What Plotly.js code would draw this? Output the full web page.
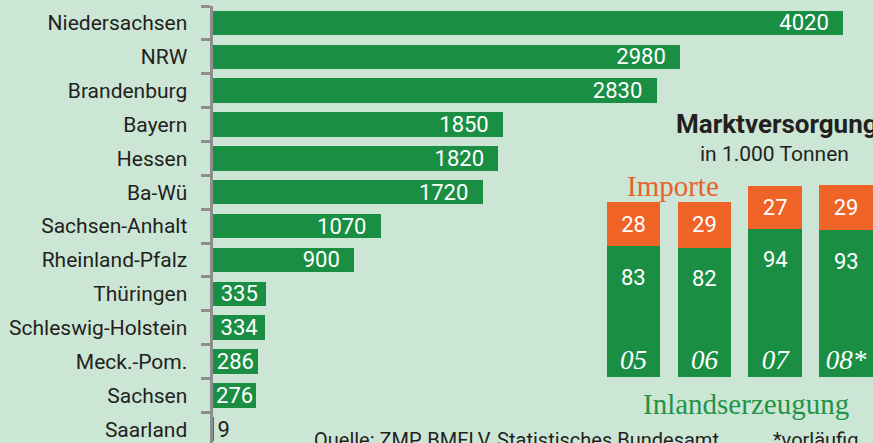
<!DOCTYPE html>
<html>
<head>
<meta charset="utf-8">
<script src="https://cdn.plot.ly/plotly-3.0.1.min.js"></script>
<style>html,body{margin:0;padding:0;background:#cce6d5;}#chart{width:873px;height:443px;}</style>
</head>
<body>
<div id="chart"></div>
<script>
// Main chart data
const states = ["Niedersachsen","NRW","Brandenburg","Bayern","Hessen","Ba-Wü","Sachsen-Anhalt","Rheinland-Pfalz","Thüringen","Schleswig-Holstein","Meck.-Pom.","Sachsen","Saarland"];
const area = [4020,2980,2830,1850,1820,1720,1070,900,335,334,286,276,9];

// Inset data (Marktversorgung, in 1.000 Tonnen)
const years = ["05","06","07","08*"];
const inland = [83,82,94,93];
const imports = [28,29,27,29];

const W = 873, H = 443;
const SANS = "Roboto, 'Liberation Sans', Arial, sans-serif";
const SERIF = "'Liberation Serif', 'Times New Roman', serif";
const GREEN = '#1a8f44', ORANGE = '#ef6326', DARK = '#231f20', BG = '#cce6d5', GRAY = '#8e8e8e';
const px = v => v / W, py = v => 1 - v / H;

// Long bars: label at the bar end; short bars: label centred; tiny bars: label outside
const isLong = v => v >= 500;
const longTrace = {
  type: 'bar', orientation: 'h', xaxis: 'x', yaxis: 'y',
  x: area.map(v => isLong(v) ? v : null), y: states,
  width: 0.72, marker: {color: GREEN},
  text: area.map(v => isLong(v) ? v + '\u2002' : ''),
  textposition: 'inside', insidetextanchor: 'end', constraintext: 'none', cliponaxis: false,
  insidetextfont: {family: SANS, size: 22, color: '#ffffff'},
  hoverinfo: 'skip'
};
const shortTrace = {
  type: 'bar', orientation: 'h', xaxis: 'x', yaxis: 'y',
  x: area.map(v => isLong(v) ? null : v), y: states,
  width: 0.72, marker: {color: GREEN},
  text: area.map(v => isLong(v) ? '' : String(v)),
  textposition: area.map(v => v >= 100 ? 'inside' : 'outside'),
  insidetextanchor: 'middle', constraintext: 'none', cliponaxis: false,
  insidetextfont: {family: SANS, size: 22, color: '#ffffff'},
  outsidetextfont: {family: SANS, size: 22, color: DARK},
  hoverinfo: 'skip'
};

const inlandTrace = {
  type: 'bar', x: years, y: inland, xaxis: 'x2', yaxis: 'y2',
  width: 0.755, marker: {color: GREEN}, hoverinfo: 'skip'
};
const importTrace = {
  type: 'bar', x: years, y: imports, xaxis: 'x2', yaxis: 'y2',
  width: 0.755, marker: {color: ORANGE},
  text: imports.map(String), textposition: 'inside', insidetextanchor: 'middle',
  constraintext: 'none',
  insidetextfont: {family: SANS, size: 22, color: '#ffffff'},
  hoverinfo: 'skip'
};

const xStart = 212.5, zeroPx = 213, endPx = 843;
const unitPx = (endPx - zeroPx) / area[0];
const xmax = (W - zeroPx) / unitPx;
const xmin = -(zeroPx - xStart) / unitPx;

const rowPx = 33.86, topPx = 6;
const yBottom = -0.5 + (H - topPx) / rowPx;

const step = 70.8, c0 = 633.6;
const x2Start = c0 - step / 2;
const x2End = -0.5 + (W - x2Start) / step;
const base2 = 377.3, unit2 = 1.579, y2max = 125;
const y2top = base2 - y2max * unit2;

const annotations = [];
inland.forEach((v, i) => {
  annotations.push({xref: 'x2', yref: 'y2', x: i, y: v, yshift: -31, showarrow: false,
    text: String(v), font: {family: SANS, size: 22, color: '#ffffff'}, xanchor: 'center', yanchor: 'middle'});
});
annotations.push(
  {xref: 'paper', yref: 'paper', x: px(674), y: py(124), xanchor: 'left', yanchor: 'middle', showarrow: false,
   text: '<b>Marktversorgung</b>', font: {family: SANS, size: 26, color: DARK}},
  {xref: 'paper', yref: 'paper', x: px(774), y: py(154), xanchor: 'center', yanchor: 'middle', showarrow: false,
   text: 'in 1.000 Tonnen', font: {family: SANS, size: 21, color: DARK}},
  {xref: 'paper', yref: 'paper', x: px(673), y: py(186), xanchor: 'center', yanchor: 'middle', showarrow: false,
   text: 'Importe', font: {family: SERIF, size: 29, color: '#e8612c'}},
  {xref: 'paper', yref: 'paper', x: px(746), y: py(404), xanchor: 'center', yanchor: 'middle', showarrow: false,
   text: 'Inlandserzeugung', font: {family: SERIF, size: 29, color: '#1f9447'}},
  {xref: 'paper', yref: 'paper', x: px(312), y: py(440), xanchor: 'left', yanchor: 'middle', showarrow: false,
   text: 'Quelle: ZMP, BMELV, Statistisches Bundesamt', font: {family: SANS, size: 20, color: DARK}},
  {xref: 'paper', yref: 'paper', x: px(771), y: py(440), xanchor: 'left', yanchor: 'middle', showarrow: false,
   text: '*vorläufig', font: {family: SANS, size: 20, color: DARK}}
);

const layout = {
  width: W, height: H,
  margin: {l: 0, r: 0, t: 0, b: 0, pad: 0},
  paper_bgcolor: BG, plot_bgcolor: 'rgba(0,0,0,0)',
  showlegend: false, barmode: 'stack',
  xaxis: {domain: [px(xStart), 1], range: [xmin, xmax], visible: false, fixedrange: true},
  yaxis: {domain: [0, (H - topPx) / H], type: 'category', categoryarray: states, categoryorder: 'array',
    range: [yBottom, -0.5], tickson: 'boundaries', ticks: 'outside', ticklen: 9, tickwidth: 3, tickcolor: GRAY,
    showline: true, linecolor: GRAY, linewidth: 3, showgrid: false, zeroline: false,
    ticklabelstandoff: 18, tickfont: {family: SANS, size: 21, color: DARK}, automargin: false, fixedrange: true},
  xaxis2: {domain: [px(x2Start), 1], anchor: 'y2', type: 'category', categoryarray: years, range: [-0.5, x2End],
    showline: false, showgrid: false, zeroline: false, ticks: '', ticklabelposition: 'inside',
    tickfont: {family: SERIF, size: 27, color: '#ffffff', style: 'italic'}, automargin: false, fixedrange: true},
  yaxis2: {domain: [(H - base2) / H, (H - y2top) / H], anchor: 'x2', range: [0, y2max], visible: false, fixedrange: true},
  annotations: annotations
};

Plotly.newPlot('chart', [longTrace, shortTrace, inlandTrace, importTrace], layout, {staticPlot: true, displayModeBar: false});
</script>
</body>
</html>
